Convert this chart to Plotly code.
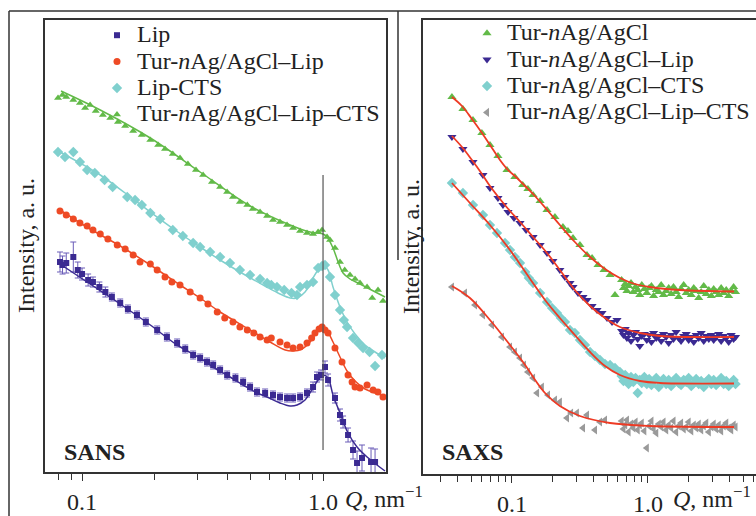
import plotly.graph_objects as go

FONT = "Liberation Serif"
BLUE = "#3B2A92"
RED = "#EE4A25"
CYAN = "#80D0CE"
GREEN = "#62BA48"
GRAY = "#9A9A9A"
FITRED = "#EE3A24"
FS = 24

# ---------------- SANS data (left panel) ----------------
sans_lip_q = [0.081,0.083,0.086,0.092,0.096,0.100,0.106,0.111,0.118,0.125,0.133,0.144,0.155,0.169,0.184,0.205,0.225,0.248,0.268,0.289,0.309,0.330,0.350,0.374,0.400,0.433,0.466,0.498,0.532,0.575,0.620,0.663,0.709,0.751,0.803,0.858,0.909,0.944,0.981,1.019,1.049,1.121,1.176,1.211,1.270,1.332,1.384,1.451,1.582,1.644]
sans_lip_i = [21.0,20.7,20.9,21.5,20.2,19.8,19.2,19.0,18.5,18.0,17.5,16.9,16.3,15.7,15.0,14.2,13.5,12.9,12.3,11.7,11.4,11.0,10.7,10.2,9.7,9.4,9.0,8.5,8.0,7.9,7.7,7.5,7.4,7.4,7.5,7.9,8.5,9.5,9.7,10.5,9.2,7.4,5.7,5.0,3.7,2.2,0.9,1.4,1.0,1.0]
sans_lip_err = [1.0,0.9,1.0,1.5,0.8,0.6,0.6,0.5,0.5,0.5,0.4,0.4,0.4,0.4,0.4,0.4,0.4,0.4,0.4,0.4,0.4,0.4,0.4,0.4,0.4,0.4,0.4,0.4,0.4,0.4,0.4,0.4,0.4,0.4,0.4,0.4,0.5,0.5,0.5,0.6,0.6,0.5,0.6,0.6,0.7,0.9,1.2,1.3,1.4,1.3]
sans_lip_fit_q = [0.081,0.108,0.144,0.192,0.248,0.309,0.350,0.411,0.466,0.532,0.586,0.663,0.730,0.780,0.842,0.898,0.954,1.0,1.049,1.100,1.176,1.270,1.384,1.523,1.675,1.808]
sans_lip_fit_i = [20.8,18.8,16.8,14.7,12.7,11.4,10.5,9.5,8.7,7.9,7.5,6.9,6.6,6.7,7.2,8.2,9.2,9.7,9.4,7.7,5.9,3.9,2.5,1.5,0.7,0.1]

sans_tl_q = [0.081,0.086,0.092,0.098,0.105,0.111,0.119,0.128,0.140,0.151,0.163,0.174,0.192,0.205,0.221,0.236,0.255,0.281,0.309,0.333,0.364,0.391,0.423,0.452,0.485,0.516,0.548,0.586,0.610,0.663,0.709,0.751,0.803,0.858,0.897,0.926,0.963,0.991,1.019,1.049,1.121,1.199,1.270,1.320,1.358,1.424,1.523,1.613,1.690,1.774]
sans_tl_i = [26.1,25.7,25.3,24.9,24.6,24.2,23.8,23.3,22.7,22.3,21.7,21.0,20.8,20.2,19.5,19.0,18.7,18.0,17.4,16.8,16.0,15.4,15.0,14.5,14.2,13.9,13.5,13.2,13.4,13.0,12.7,12.4,12.5,12.9,13.4,13.9,14.3,14.5,14.2,13.9,12.4,11.0,9.7,9.0,8.5,8.4,8.7,8.2,8.0,7.5]
sans_tl_fit_q = [0.081,0.108,0.144,0.192,0.255,0.309,0.374,0.498,0.603,0.697,0.751,0.818,0.883,0.935,0.991,1.039,1.100,1.176,1.258,1.358,1.494,1.644,1.808]
sans_tl_fit_i = [26.2,24.3,22.6,20.7,18.7,17.4,16.0,14.2,13.0,12.2,12.1,12.3,13.0,13.9,14.4,14.1,13.0,11.5,10.1,9.1,8.3,7.9,7.6]

sans_lc_q = [0.0795,0.085,0.092,0.098,0.105,0.113,0.124,0.134,0.154,0.166,0.177,0.192,0.211,0.238,0.262,0.289,0.309,0.340,0.374,0.411,0.452,0.498,0.548,0.586,0.610,0.644,0.690,0.740,0.780,0.803,0.858,0.909,0.954,0.991,1.019,1.069,1.121,1.176,1.220,1.258,1.332,1.400,1.466,1.560,1.644,1.757]
sans_lc_i = [32.0,31.5,32.0,31.0,30.2,29.9,29.2,28.5,27.5,27.2,26.7,25.9,25.3,24.2,23.6,22.9,22.5,22.0,21.5,20.9,20.2,19.7,19.3,18.9,18.7,18.5,18.2,17.9,17.7,18.5,18.7,19.0,20.4,20.6,20.7,19.5,17.7,16.2,15.2,14.5,13.4,12.9,12.4,12.0,10.6,11.7]
sans_lc_fit_q = [0.0795,0.098,0.119,0.151,0.192,0.243,0.309,0.374,0.452,0.574,0.663,0.730,0.780,0.842,0.898,0.954,1.0,1.049,1.100,1.176,1.258,1.358,1.494,1.644,1.808]
sans_lc_fit_i = [32.1,30.9,29.7,27.9,26.0,24.2,22.5,21.2,20.0,18.6,17.8,17.4,17.4,18.0,19.2,20.2,20.7,20.2,18.5,16.5,15.0,13.8,12.7,12.0,11.4]

sans_tlc_q = [0.0795,0.083,0.086,0.092,0.098,0.103,0.108,0.114,0.122,0.131,0.141,0.151,0.163,0.177,0.192,0.207,0.221,0.238,0.255,0.275,0.297,0.318,0.346,0.374,0.400,0.423,0.452,0.485,0.511,0.548,0.586,0.620,0.663,0.709,0.751,0.803,0.858,0.909,0.954,0.991,1.039,1.069,1.121,1.176,1.230,1.294,1.358,1.424,1.523,1.600,1.691,1.774]
sans_tlc_i = [37.4,37.7,37.5,37.2,36.9,36.4,36.7,36.1,35.7,35.4,35.0,34.6,34.1,33.7,33.2,32.7,32.3,31.8,31.4,30.8,30.2,29.7,29.0,28.5,28.0,27.5,27.0,26.7,26.3,26.0,25.6,25.2,25.0,24.7,24.4,24.1,23.9,23.8,24.0,24.2,23.5,23.2,22.4,21.0,20.2,19.7,19.3,18.9,18.5,17.4,18.2,17.1]
sans_tlc_fit_q = [0.0818,0.119,0.192,0.309,0.498,0.730,0.883,0.950,1.0,1.039,1.100,1.155,1.211,1.294,1.424,1.560,1.808]
sans_tlc_fit_i = [38.1,36.2,33.4,30.0,26.6,24.7,24.0,23.9,23.8,23.5,22.4,21.0,19.9,19.3,18.8,18.3,17.5]

sans_marker_q = [1.0, 1.0]
sans_marker_i = [29.7, 2.2]

# ---------------- SAXS data (right panel) ----------------
saxs_tail_q = [0.64,0.66,0.68,0.70,0.72,0.75,0.78,0.81,0.84,0.87,0.90,0.94,0.98,1.02,1.06,1.10,1.15,1.20,1.25,1.30,1.36,1.42,1.48,1.54,1.61,1.68,1.75,1.83,1.91,1.99,2.08,2.17,2.26,2.36,2.46,2.57,2.68,2.80,2.92,3.04,3.17,3.31,3.45,3.60,3.76,3.92,4.09,4.26,4.40]

saxs_t_q = [0.0362,0.0436,0.0517,0.0601,0.0689,0.0789,0.0919,0.105,0.120,0.131,0.143,0.161,0.181,0.207,0.237,0.258,0.281,0.316,0.356,0.388,0.429,0.475,0.526,0.572]
saxs_t_i = [37.7,36.5,35.4,34.1,32.9,31.8,30.4,29.7,28.9,28.5,27.9,27.3,26.4,25.7,24.7,24.3,23.6,22.9,21.9,21.6,20.9,20.4,19.9,17.9]
saxs_t_tail_i = [19.4,18.6,19.0,18.3,18.8,19.1,18.2,18.7,18.4,17.9,18.9,18.5,18.1,18.6,18.8,17.8,18.4,18.2,18.9,17.9,18.3,18.6,18.0,18.7,18.2,17.7,18.5,18.9,18.1,18.4,17.9,18.6,18.3,17.6,18.2,18.8,18.0,18.4,17.8,18.5,18.2,17.9,18.6,18.1,18.4,17.8,18.3,18.7,18.2]
saxs_t_fit_q = [0.0362,0.0429,0.0508,0.0602,0.0713,0.0816,0.0935,0.107,0.1246,0.1476,0.184,0.225,0.290,0.375,0.483,0.622,0.802,1.034,1.719,4.29]
saxs_t_fit_i = [37.7,36.8,35.5,34.1,32.6,31.4,30.4,29.7,28.8,27.8,26.3,24.9,23.2,21.7,20.5,19.6,19.0,18.7,18.4,18.25]

saxs_tl_q = [0.0362,0.0436,0.0517,0.0612,0.0689,0.0789,0.0859,0.0935,0.1035,0.1146,0.127,0.143,0.161,0.181,0.200,0.225,0.245,0.267,0.281,0.306,0.333,0.356,0.388,0.422,0.459,0.500,0.544,0.592]
saxs_tl_i = [33.7,32.5,31.2,29.9,28.6,27.6,26.9,26.2,25.6,25.1,24.4,23.7,22.9,22.1,21.3,20.4,19.7,19.1,18.7,18.1,17.7,17.4,16.8,16.4,16.1,15.6,15.2,15.4]
saxs_tl_tail_i = [14.3,13.9,14.5,13.6,14.1,13.3,13.9,14.2,13.5,12.8,13.8,14.0,13.4,13.9,13.2,14.1,13.6,13.8,13.3,14.0,13.7,13.1,13.9,13.5,14.2,13.6,13.3,13.8,14.0,13.4,13.7,13.2,13.9,13.6,14.1,13.3,13.8,13.5,13.9,13.4,13.7,14.0,13.3,13.8,13.6,13.2,13.9,13.5,13.7]
saxs_tl_fit_q = [0.0362,0.0429,0.0508,0.0602,0.0689,0.0816,0.0967,0.1146,0.143,0.181,0.225,0.290,0.375,0.483,0.622,0.873,1.225,4.29]
saxs_tl_fit_i = [33.8,32.7,31.4,30.0,28.8,27.5,26.3,25.2,23.7,22.1,20.4,18.4,16.8,15.6,14.7,14.1,13.8,13.7]

saxs_tc_q = [0.0362,0.0436,0.0517,0.0612,0.0689,0.0776,0.0889,0.0967,0.105,0.1146,0.125,0.133,0.143,0.161,0.181,0.197,0.214,0.229,0.245,0.267,0.290,0.316,0.344,0.375,0.408,0.444,0.483,0.526,0.572,0.622]
saxs_tc_i = [29.1,28.1,26.9,25.9,24.9,24.1,23.1,22.4,21.7,21.1,20.2,19.6,19.1,18.1,17.2,16.6,16.1,15.6,15.2,14.4,14.1,13.4,12.9,12.2,11.8,11.4,11.0,10.9,10.6,10.2]
saxs_tc_tail_i = [9.8,9.3,9.9,9.5,9.0,9.7,9.2,9.6,8.1,9.4,9.1,9.7,9.0,9.5,8.9,9.3,9.6,8.7,9.2,9.5,9.0,9.4,8.8,9.3,9.6,9.1,8.9,9.4,9.2,9.6,8.8,9.1,9.5,9.0,9.3,8.7,9.2,9.5,9.0,9.4,8.9,9.2,9.6,9.0,9.3,8.8,9.1,9.4,9.0]
saxs_tc_fit_q = [0.0362,0.0491,0.0689,0.0967,0.136,0.175,0.225,0.290,0.375,0.483,0.622,0.873,1.225,4.29]
saxs_tc_fit_i = [29.1,27.1,24.9,22.4,19.5,17.4,15.6,13.9,12.2,10.8,9.9,9.3,9.1,9.05]

saxs_tlc_q = [0.0362,0.0451,0.0535,0.0612,0.0713,0.0844,0.0967,0.105,0.1146,0.1225,0.131,0.143,0.153,0.166,0.184,0.207,0.225,0.254,0.272,0.300,0.333,0.356,0.408,0.444,0.483]
saxs_tlc_i = [18.7,18.1,16.9,15.9,14.9,13.7,12.7,12.2,11.6,10.9,10.2,9.6,8.1,8.7,7.9,7.4,7.2,5.6,6.1,6.1,4.6,5.9,4.4,5.2,5.4]
saxs_tlc_tail_i = [5.3,4.5,4.9,5.4,4.2,5.0,4.6,5.2,4.4,4.9,5.1,4.3,2.6,4.8,5.3,4.5,4.1,5.0,4.7,5.2,4.4,4.9,4.6,5.3,4.2,4.8,5.1,4.5,4.7,5.2,4.3,4.9,4.6,5.0,4.4,4.8,5.1,4.2,4.7,5.0,4.5,4.9,4.3,4.8,5.1,4.6,4.4,4.9,4.7]
saxs_tlc_fit_q = [0.0362,0.0491,0.0689,0.0967,0.125,0.148,0.175,0.225,0.316,0.526,1.034,4.29]
saxs_tlc_fit_i = [18.8,17.6,15.4,12.9,10.9,9.4,8.1,6.8,5.8,5.1,4.8,4.7]

# ---------------- figure ----------------
fig = go.Figure()

def big(s):
    return '<span style="font-size:%dpx">%s</span>' % (FS, s)

def data_trace(q, i, name, sym, color, size, xa, ya, leg, err=None):
    kw = dict(x=q, y=i, mode="markers", name=big(name), xaxis=xa, yaxis=ya, legend=leg,
              marker=dict(symbol=sym, color=color, size=size, line=dict(width=0)))
    if err is not None:
        kw["error_y"] = dict(type="data", array=err, color="#6A5CB8", thickness=1, width=3)
    return go.Scatter(**kw)

def fit_trace(q, i, color, xa, ya, width=1.5, shape="spline"):
    return go.Scatter(x=q, y=i, mode="lines", line=dict(color=color, width=width, shape=shape),
                      xaxis=xa, yaxis=ya, showlegend=False, hoverinfo="skip")

# SANS
fig.add_trace(data_trace(sans_lip_q, sans_lip_i, "Lip", "square", BLUE, 6, "x", "y", "legend", sans_lip_err))
fig.add_trace(data_trace(sans_tl_q, sans_tl_i, "Tur-<i>n</i>Ag/AgCl–Lip", "circle", RED, 7, "x", "y", "legend"))
fig.add_trace(data_trace(sans_lc_q, sans_lc_i, "Lip-CTS", "diamond", CYAN, 8, "x", "y", "legend"))
fig.add_trace(data_trace(sans_tlc_q, sans_tlc_i, "Tur-<i>n</i>Ag/AgCl–Lip–CTS", "triangle-up", GREEN, 7, "x", "y", "legend"))
fig.add_trace(fit_trace(sans_lip_fit_q, sans_lip_fit_i, BLUE, "x", "y"))
fig.add_trace(fit_trace(sans_tl_fit_q, sans_tl_fit_i, RED, "x", "y"))
fig.add_trace(fit_trace(sans_lc_fit_q, sans_lc_fit_i, CYAN, "x", "y"))
fig.add_trace(fit_trace(sans_tlc_fit_q, sans_tlc_fit_i, GREEN, "x", "y"))
fig.add_trace(go.Scatter(x=sans_marker_q, y=sans_marker_i, mode="lines", line=dict(color="#555555", width=1.2),
                         xaxis="x", yaxis="y", showlegend=False, hoverinfo="skip"))

# SAXS
fig.add_trace(data_trace(saxs_t_q + saxs_tail_q, saxs_t_i + saxs_t_tail_i, "Tur-<i>n</i>Ag/AgCl", "triangle-up", GREEN, 8, "x2", "y2", "legend2"))
fig.add_trace(data_trace(saxs_tl_q + saxs_tail_q, saxs_tl_i + saxs_tl_tail_i, "Tur-<i>n</i>Ag/AgCl–Lip", "triangle-down", BLUE, 8, "x2", "y2", "legend2"))
fig.add_trace(data_trace(saxs_tc_q + saxs_tail_q, saxs_tc_i + saxs_tc_tail_i, "Tur-<i>n</i>Ag/AgCl–CTS", "diamond", CYAN, 8, "x2", "y2", "legend2"))
fig.add_trace(data_trace(saxs_tlc_q + saxs_tail_q, saxs_tlc_i + saxs_tlc_tail_i, "Tur-<i>n</i>Ag/AgCl–Lip–CTS", "triangle-left", GRAY, 8, "x2", "y2", "legend2"))
for q, i in [(saxs_t_fit_q, saxs_t_fit_i), (saxs_tl_fit_q, saxs_tl_fit_i),
             (saxs_tc_fit_q, saxs_tc_fit_i), (saxs_tlc_fit_q, saxs_tlc_fit_i)]:
    fig.add_trace(fit_trace(q, i, FITRED, "x2", "y2", 1.8))

W, H = 756, 516
def px(x): return x / W
def py(y): return (H - y) / H

axis_font = dict(family=FONT, size=FS, color="#222222")
minor_left = [0.08, 0.09, 0.2, 0.3, 0.4, 0.5, 0.6, 0.7, 0.8, 0.9]
minor_right = [0.03, 0.04, 0.05, 0.06, 0.07, 0.08, 0.09, 0.2, 0.3, 0.4, 0.5, 0.6, 0.7, 0.8, 0.9, 2, 3, 4, 5, 6]

fig.update_layout(
    width=W, height=H,
    margin=dict(l=0, r=0, t=0, b=0),
    paper_bgcolor="white", plot_bgcolor="white",
    font=dict(family=FONT, size=FS, color="#222222"),
    xaxis=dict(type="log", domain=[px(45), px(386)], range=[-1.1537, 0.2613],
               tickvals=[0.1, 1], ticktext=["0.1", "1.0"], ticks="outside", ticklen=7,
               tickcolor="#333333", tickfont=axis_font, showgrid=False, zeroline=False,
               showline=True, linecolor="#333333", linewidth=1.5, mirror=True,
               minor=dict(ticks="outside", ticklen=6, tickvals=minor_left, tickcolor="#333333", showgrid=False),
               anchor="y"),
    yaxis=dict(domain=[py(472), py(20)], range=[0, 45.2], showticklabels=False, ticks="",
               showgrid=False, zeroline=False, showline=True, linecolor="#333333", linewidth=1.5,
               mirror=True, anchor="x"),
    xaxis2=dict(type="log", domain=[px(423), 1.0], range=[-1.654, 0.794],
                tickvals=[0.1, 1], ticktext=["0.1", "1.0"], ticks="outside", ticklen=7,
                tickcolor="#333333", tickfont=axis_font, showgrid=False, zeroline=False,
                showline=True, linecolor="#333333", linewidth=1.5, mirror=True,
                minor=dict(ticks="outside", ticklen=6, tickvals=minor_right, tickcolor="#333333", showgrid=False),
                anchor="y2"),
    yaxis2=dict(domain=[py(474), py(20)], range=[0, 45.4], showticklabels=False, ticks="",
                showgrid=False, zeroline=False, showline=True, linecolor="#333333", linewidth=1.5,
                mirror=False, anchor="x2"),
    legend=dict(x=px(97), y=py(17), xanchor="left", yanchor="top", bgcolor="rgba(0,0,0,0)",
                font=dict(family=FONT, size=18, color="#222222"), itemwidth=30),
    legend2=dict(x=px(467), y=py(15), xanchor="left", yanchor="top", bgcolor="rgba(0,0,0,0)",
                 font=dict(family=FONT, size=18, color="#222222"), itemwidth=30),
    showlegend=True,
)

ann = [
    dict(text="<i>Q</i>, nm<sup>−1</sup>", x=px(343), y=py(497), xanchor="left", yanchor="middle"),
    dict(text="<i>Q</i>, nm<sup>−1</sup>", x=px(753), y=py(497), xanchor="right", yanchor="middle"),
    dict(text="<b>SANS</b>", x=px(62), y=py(452), xanchor="left", yanchor="middle"),
    dict(text="<b>SAXS</b>", x=px(440), y=py(452), xanchor="left", yanchor="middle"),
    dict(text="Intensity, a. u.", x=px(26), y=py(246), xanchor="center", yanchor="middle", textangle=-90),
    dict(text="Intensity, a. u.", x=px(411), y=py(246), xanchor="center", yanchor="middle", textangle=-90),
]
for a in ann:
    fig.add_annotation(xref="paper", yref="paper", showarrow=False,
                       font=dict(family=FONT, size=FS, color="#222222"), **a)

# outer frame lines
frame = dict(type="line", xref="paper", yref="paper", line=dict(color="#333333", width=1.5))
fig.add_shape(x0=px(9), x1=1.0, y0=py(11), y1=py(11), **frame)
fig.add_shape(x0=px(9), x1=px(9), y0=py(11), y1=0, **frame)
fig.add_shape(x0=px(398), x1=px(398), y0=py(11), y1=py(260), **frame)

fig.write_html("out.html", post_script="document.body.style.margin='0px';",
               config={"displayModeBar": False})
